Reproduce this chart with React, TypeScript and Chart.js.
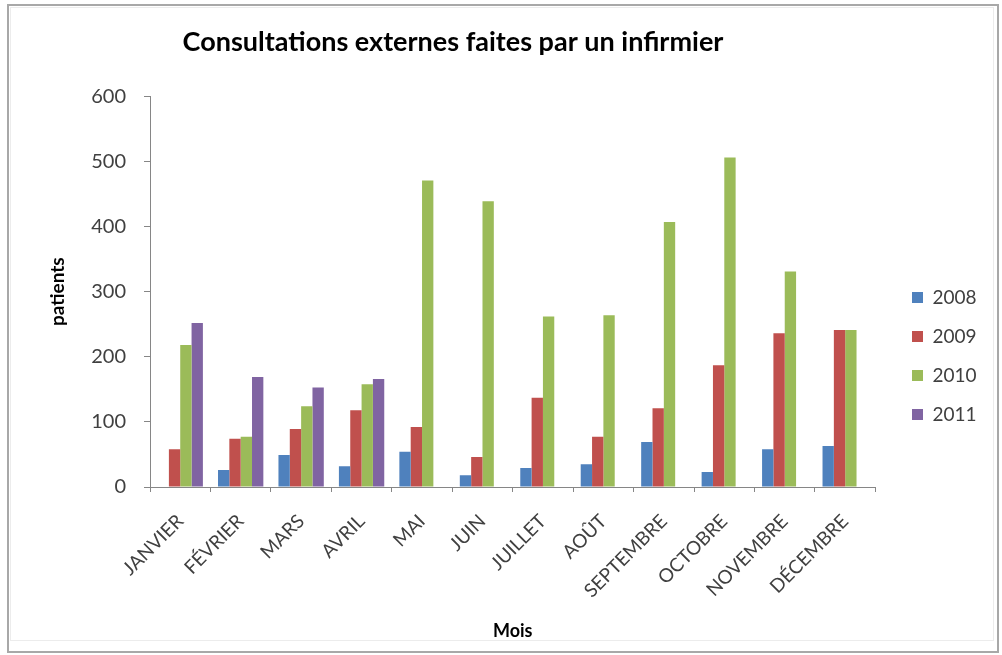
import { useEffect, useRef } from "react";
import { Chart, registerables } from "chart.js";

Chart.register(...registerables);

const months = ["JANVIER", "FÉVRIER", "MARS", "AVRIL", "MAI", "JUIN", "JUILLET", "AOÛT", "SEPTEMBRE", "OCTOBRE", "NOVEMBRE", "DÉCEMBRE"];
const seriesLabels = ["2008", "2009", "2010", "2011"];
const values2008 = [null, 26, 49, 32, 54, 18, 29, 35, 69, 23, 58, 63];
const values2009 = [58, 74, 89, 118, 92, 46, 137, 77, 121, 187, 236, 241];
const values2010 = [218, 77, 124, 158, 471, 439, 262, 264, 407, 506, 331, 241];
const values2011 = [252, 169, 153, 166, null, null, null, null, null, null, null, null];
const yMin = 0;
const yMax = 600;
const yStep = 100;
const titleText = "Consultations externes faites par un infirmier";
const yTitle = "patients";
const xTitle = "Mois";

const colors = ["#4F81BD", "#C0504D", "#9BBB59", "#8064A2"];
const FONT = "Lato, 'Open Sans', sans-serif";

const placeBoxes = {
  id: "placeBoxes",
  afterLayout(chart: any) {
    const t = chart.titleBlock;
    if (t) {
      const dx = 453 - (t.left + t.right) / 2;
      t.left += dx;
      t.right += dx;
    }
    const l = chart.legend;
    if (l) {
      const dx = 892 - l.left;
      const dy = 268 - l.top;
      l.left += dx;
      l.right += dx;
      l.top += dy;
      l.bottom += dy;
    }
  },
};

export default function App() {
  const ref = useRef<HTMLCanvasElement | null>(null);

  useEffect(() => {
    if (!ref.current) return;
    const all = [values2008, values2009, values2010, values2011];
    const chart = new Chart(ref.current, {
      type: "bar",
      data: {
        labels: months,
        datasets: all.map((d, i) => ({
          label: seriesLabels[i],
          data: d,
          backgroundColor: colors[i],
          borderWidth: 0,
          categoryPercentage: 0.75,
          barPercentage: 1.0,
        })),
      },
      options: {
        responsive: false,
        animation: false,
        layout: { padding: { left: 44, right: 32, top: 10, bottom: 9 } },
        plugins: {
          title: {
            display: true,
            text: titleText,
            color: "#000",
            font: { family: FONT, size: 27, weight: "bold" },
            padding: { top: 16, bottom: 38 },
          },
          legend: {
            display: true,
            position: "right",
            align: "start",
            labels: {
              boxWidth: 11,
              boxHeight: 11,
              padding: 20,
              color: "#404040",
              font: { family: FONT, size: 19 },
            },
          },
          tooltip: { enabled: false },
        },
        scales: {
          x: {
            grid: { display: true, drawOnChartArea: false, offset: true, color: "#868686", tickLength: 5 },
            border: { display: true, color: "#868686" },
            ticks: {
              minRotation: 45,
              maxRotation: 45,
              autoSkip: false,
              color: "#404040",
              font: { family: FONT, size: 19 },
              padding: 18,
            },
            title: {
              display: true,
              text: xTitle,
              color: "#000",
              font: { family: FONT, size: 18, weight: "bold" },
              padding: { top: 4, bottom: 4 },
            },
            afterFit: (s: any) => {
              s.height = 655 - 9 - 487;
            },
          },
          y: {
            min: yMin,
            max: yMax,
            ticks: { stepSize: yStep, color: "#404040", font: { family: FONT, size: 20 }, padding: 18 },
            grid: { display: true, drawOnChartArea: false, color: "#868686", tickLength: 6 },
            border: { display: true, color: "#868686" },
            title: {
              display: true,
              text: yTitle,
              color: "#000",
              font: { family: FONT, size: 19, weight: "bold" },
              padding: { top: 2, bottom: 4 },
            },
            afterFit: (s: any) => {
              s.width = 150 - 44;
            },
          },
        },
      },
      plugins: [placeBoxes],
    });
    return () => chart.destroy();
  }, []);

  return (
    <div style={{ position: "fixed", left: 0, top: 0, width: 1002, height: 655, background: "#fff" }}>
      <canvas ref={ref} width={1002} height={655} style={{ display: "block" }} />
      <div
        style={{
          position: "absolute",
          left: 7,
          top: 4,
          width: 988,
          height: 645,
          border: "2px solid #a8a8a8",
          pointerEvents: "none",
        }}
      />
      <div
        style={{
          position: "absolute",
          left: 10,
          top: 7,
          width: 982,
          height: 632,
          border: "1px solid #ececec",
          pointerEvents: "none",
        }}
      />
    </div>
  );
}
